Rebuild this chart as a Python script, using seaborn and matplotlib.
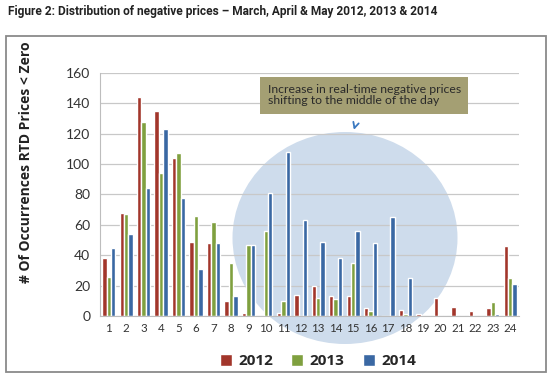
import numpy as np
import pandas as pd
import seaborn as sns
import matplotlib.pyplot as plt
from matplotlib.patches import Ellipse, Rectangle

hours = list(range(1, 25))
y2012 = [38, 68, 144, 135, 104, 49, 48, 10, 2, 0, 2, 14, 20, 13, 13, 5, 0, 4, 1, 12, 6, 3, 5, 46]
y2013 = [26, 67, 128, 94, 107, 66, 62, 35, 47, 56, 10, 0, 12, 11, 35, 3, 0, 1, 0, 0, 0, 0, 9, 25]
y2014 = [45, 54, 84, 123, 78, 31, 48, 13, 47, 81, 108, 63, 49, 38, 56, 48, 65, 25, 0, 0, 0, 0, 1, 21]
years = ["2012", "2013", "2014"]
colors = ["#A2362B", "#7FA03F", "#3A68A3"]

df = pd.DataFrame({
    "hour": hours * 3,
    "value": y2012 + y2013 + y2014,
    "year": [y for y in years for _ in hours],
})

sns.set_style("white")
plt.rcParams["font.family"] = ["Lato", "DejaVu Sans"]

fig = plt.figure(figsize=(5.51, 3.78), dpi=100)
ax = fig.add_axes([100 / 551, 1 - 316 / 378, 419 / 551, 243 / 378])
ax.patch.set_alpha(0)

# outer frame
fig.patches.append(Rectangle((6 / 551, 1 - 372 / 378), 540 / 551, 336 / 378,
                             transform=fig.transFigure, facecolor="none",
                             edgecolor="#8a8a8a", lw=1.3, zorder=0))

# blue highlight circle behind the bars
ax.add_patch(Ellipse((345 / 551, 1 - 238 / 378), 225 / 551, 212 / 378,
                     transform=fig.transFigure, facecolor="#cedcec",
                     edgecolor="none", clip_on=False, zorder=0.3))

sns.barplot(data=df, x="hour", y="value", hue="year", palette=colors,
            width=0.76, saturation=1, ax=ax, zorder=2)

ax.set_ylim(0, 160)
ax.set_yticks(range(0, 161, 20))
ax.set_xlim(-0.5, 23.5)
ax.yaxis.grid(True, color="#c8c8c8", lw=0.9)
ax.set_axisbelow(True)
for s in ["top", "right"]:
    ax.spines[s].set_visible(False)
ax.spines["left"].set_color("#bdbdbd")
ax.spines["bottom"].set_color("#bdbdbd")
ax.tick_params(axis="y", labelsize=10, labelcolor="#333333", length=4, color="#bdbdbd", pad=3)
ax.tick_params(axis="x", labelsize=8.3, labelcolor="#333333", length=0, pad=5)
ax.set_xticks(range(24))
ax.set_xticklabels([str(h) for h in hours])
ax.set_xticks(np.arange(-0.5, 24, 1), minor=True)
ax.tick_params(axis="x", which="minor", length=4, color="#bdbdbd")
ax.set_xlabel("")
ax.set_ylabel("# Of Occurrences RTD Prices < Zero", fontsize=10,
              fontweight="bold", color="#222222",
              family=["Open Sans", "DejaVu Sans"])
ax.yaxis.set_label_coords(-0.16, 0.635)

leg = ax.legend(loc="upper center", bbox_to_anchor=(0.52, -0.1), ncol=3,
                frameon=False, handlelength=0.8, handleheight=0.8,
                handletextpad=0.4, columnspacing=1.2,
                prop={"weight": "bold", "size": 11, "family": ["Open Sans", "DejaVu Sans"]})

ax.text(0.4, 0.955, "Increase in real-time negative prices\nshifting to the middle of the day",
        transform=ax.transAxes, ha="left", va="top", fontsize=8.8, color="#2a2a2a",
        linespacing=1.05, zorder=5,
        bbox=dict(boxstyle="square,pad=0.6", facecolor="#a49f73", edgecolor="none"))
ax.annotate("", xy=(0.604, 0.755), xytext=(0.61, 0.79), xycoords="axes fraction",
            arrowprops=dict(arrowstyle="->", color="#3a78c0", lw=1.3), zorder=5)

fig.text(8 / 551, 1 - 12 / 378,
         "Figure 2: Distribution of negative prices \u2013 March, April & May 2012, 2013 & 2014",
         ha="left", va="center", fontsize=8.6, fontweight="bold", color="#222222",
         family=["Roboto", "DejaVu Sans"])

fig.savefig("out.png", dpi=100)
